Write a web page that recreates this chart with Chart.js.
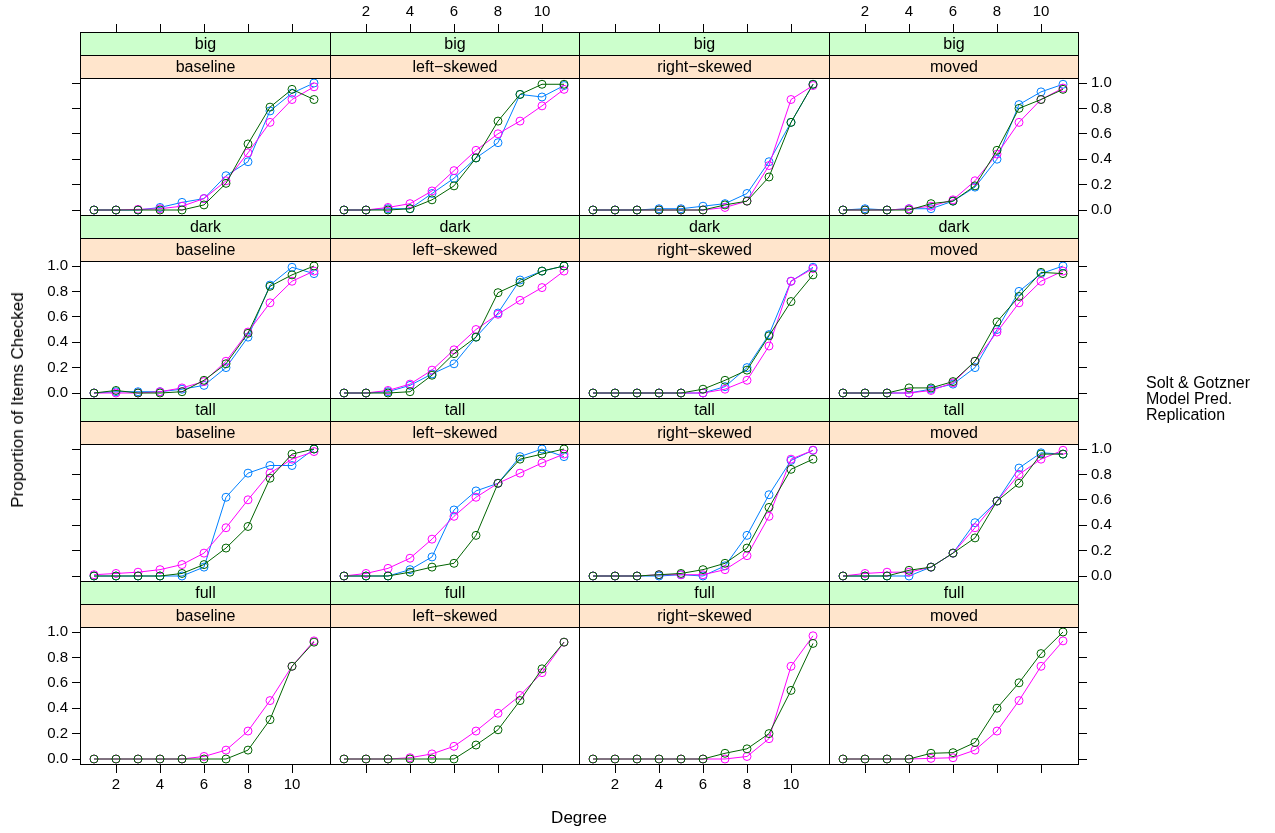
<!DOCTYPE html>
<html><head><meta charset="utf-8">
<script src="https://cdn.jsdelivr.net/npm/chart.js@4.4.0/dist/chart.umd.min.js"></script>
<style>
html,body{margin:0;padding:0;background:#fff;}
body{width:1275px;height:833px;position:relative;overflow:hidden;font-family:"Liberation Sans",Arial,sans-serif;}
canvas{position:absolute;}
.strip{position:absolute;text-align:center;font-size:16px;color:#000;height:22px;line-height:22px;white-space:nowrap;}
.lab{position:absolute;color:#000;white-space:nowrap;}
</style></head><body>
<script>
// ---------- data ----------
const degrees = [1,2,3,4,5,6,7,8,9,10,11];
const sizes = ["big","dark","tall","full"];
const shapes = ["baseline","left\u2212skewed","right\u2212skewed","moved"];
const xTicks = [2,4,6,8,10];
const yTicks = [0,0.2,0.4,0.6,0.8,1.0];
const seriesNames = ["Solt & Gotzner","Model Pred.","Replication"];

// big
const soltBigBaseline  = [0,0,0,0.02,0.06,0.09,0.27,0.38,0.78,0.92,1.00];
const modelBigBaseline = [0,0,0.005,0.01,0.03,0.09,0.23,0.45,0.69,0.87,0.97];
const replBigBaseline  = [0,0,0,0,0,0.04,0.21,0.52,0.81,0.95,0.87];
const soltBigLeft  = [0,0,0.01,0.01,0.13,0.25,0.41,0.53,0.91,0.89,0.98];
const modelBigLeft = [0,0,0.02,0.05,0.15,0.31,0.47,0.60,0.70,0.82,0.95];
const replBigLeft  = [0,0,0,0.01,0.08,0.19,0.41,0.70,0.91,0.99,0.99];
const soltBigRight  = [0,0,0,0.01,0.01,0.03,0.05,0.13,0.38,0.69,0.99];
const modelBigRight = [0,0,0,0,0,0,0.02,0.07,0.35,0.87,0.98];
const replBigRight  = [0,0,0,0,0,0,0.04,0.07,0.26,0.69,0.99];
const soltBigMoved  = [0,0.01,0,0.01,0.01,0.07,0.18,0.40,0.83,0.93,0.99];
const modelBigMoved = [0,0,0,0.01,0.03,0.08,0.23,0.44,0.69,0.87,0.96];
const replBigMoved  = [0,0,0,0,0.05,0.07,0.19,0.47,0.80,0.87,0.95];
// dark
const soltDarkBaseline  = [0,0.01,0.01,0.01,0.03,0.06,0.20,0.44,0.85,0.99,0.94];
const modelDarkBaseline = [0,0,0,0.01,0.04,0.09,0.25,0.48,0.71,0.88,0.96];
const replDarkBaseline  = [0,0.02,0,0,0.01,0.10,0.23,0.47,0.84,0.93,1.00];
const soltDarkLeft  = [0,0,0.01,0.06,0.15,0.23,0.44,0.63,0.89,0.96,1.00];
const modelDarkLeft = [0,0,0.02,0.07,0.18,0.34,0.50,0.62,0.73,0.83,0.96];
const replDarkLeft  = [0,0,0,0.01,0.14,0.31,0.44,0.79,0.87,0.96,1.00];
const soltDarkRight  = [0,0,0,0,0,0,0.05,0.20,0.46,0.88,0.99];
const modelDarkRight = [0,0,0,0,0,0,0.03,0.10,0.37,0.88,0.98];
const replDarkRight  = [0,0,0,0,0,0.03,0.10,0.18,0.45,0.72,0.93];
const soltDarkMoved  = [0,0,0,0,0.03,0.07,0.20,0.50,0.80,0.94,1.00];
const modelDarkMoved = [0,0,0,0,0.02,0.08,0.25,0.48,0.71,0.88,0.96];
const replDarkMoved  = [0,0,0,0.04,0.04,0.09,0.25,0.56,0.76,0.95,0.94];
// tall
const soltTallBaseline  = [0,0,0,0,0,0.07,0.62,0.81,0.87,0.87,1.00];
const modelTallBaseline = [0.01,0.02,0.03,0.05,0.09,0.18,0.38,0.60,0.81,0.92,0.98];
const replTallBaseline  = [0,0,0,0,0.02,0.09,0.22,0.39,0.77,0.96,1.00];
const soltTallLeft  = [0,0,0,0.05,0.15,0.52,0.67,0.73,0.94,1.00,0.94];
const modelTallLeft = [0,0.02,0.06,0.14,0.29,0.47,0.62,0.73,0.81,0.89,0.96];
const replTallLeft  = [0,0,0,0.03,0.07,0.10,0.32,0.73,0.92,0.96,1.00];
const soltTallRight  = [0,0,0,0,0.01,0,0.08,0.32,0.64,0.91,0.99];
const modelTallRight = [0,0,0,0.01,0.01,0.01,0.05,0.16,0.47,0.92,0.99];
const replTallRight  = [0,0,0,0.01,0.02,0.05,0.10,0.22,0.54,0.84,0.92];
const soltTallMoved  = [0,0,0,0,0.07,0.18,0.42,0.59,0.85,0.97,0.96];
const modelTallMoved = [0,0.02,0.03,0.03,0.07,0.18,0.38,0.59,0.80,0.92,0.99];
const replTallMoved  = [0,0,0,0.045,0.07,0.18,0.30,0.59,0.73,0.96,0.96];
// full (no Solt & Gotzner data)
const modelFullBaseline = [0,0,0,0,0,0.02,0.07,0.22,0.46,0.73,0.93];
const replFullBaseline  = [0,0,0,0,0,0,0,0.07,0.31,0.73,0.92];
const modelFullLeft = [0,0,0,0.01,0.04,0.10,0.22,0.36,0.50,0.68,0.92];
const replFullLeft  = [0,0,0,0,0,0,0.11,0.23,0.46,0.71,0.92];
const modelFullRight = [0,0,0,0,0,0,0,0.02,0.16,0.73,0.97];
const replFullRight  = [0,0,0,0,0,0,0.045,0.08,0.20,0.54,0.91];
const modelFullMoved = [0,0,0,0,0.005,0.01,0.07,0.22,0.46,0.73,0.93];
const replFullMoved  = [0,0,0,0,0.045,0.05,0.13,0.40,0.60,0.83,1.00];

const panelData = [
  [[soltBigBaseline,modelBigBaseline,replBigBaseline],[soltBigLeft,modelBigLeft,replBigLeft],[soltBigRight,modelBigRight,replBigRight],[soltBigMoved,modelBigMoved,replBigMoved]],
  [[soltDarkBaseline,modelDarkBaseline,replDarkBaseline],[soltDarkLeft,modelDarkLeft,replDarkLeft],[soltDarkRight,modelDarkRight,replDarkRight],[soltDarkMoved,modelDarkMoved,replDarkMoved]],
  [[soltTallBaseline,modelTallBaseline,replTallBaseline],[soltTallLeft,modelTallLeft,replTallLeft],[soltTallRight,modelTallRight,replTallRight],[soltTallMoved,modelTallMoved,replTallMoved]],
  [[null,modelFullBaseline,replFullBaseline],[null,modelFullLeft,replFullLeft],[null,modelFullRight,replFullRight],[null,modelFullMoved,replFullMoved]]
];

// ---------- styling / layout ----------
const colors = ["#0080ff","#ff00ff","#006400"];
const FONT = "'Liberation Sans', Arial, sans-serif";
const TICK_FONT = 15;
const colLeft = [80, 330, 579, 829, 1078];
const rowTop = [32, 215, 398, 581, 764];
const X_UNIT = 22, Y_UNIT = 127, STRIP_H = 23, PAD = 14;

const framePlugin = {
  id: 'frame',
  beforeDatasetsDraw(chart) {
    const {ctx, chartArea: a} = chart;
    ctx.save();
    ctx.fillStyle = '#ccffcc'; ctx.fillRect(a.left, a.top, a.width, STRIP_H);
    ctx.fillStyle = '#ffe5cc'; ctx.fillRect(a.left, a.top + STRIP_H, a.width, STRIP_H);
    ctx.restore();
  },
  afterDraw(chart) {
    const {ctx, chartArea: a} = chart;
    ctx.save();
    ctx.strokeStyle = '#000'; ctx.lineWidth = 1;
    ctx.strokeRect(a.left + 0.5, a.top + 0.5, a.width - 1, a.height - 1);
    ctx.beginPath();
    ctx.moveTo(a.left, a.top + STRIP_H + 0.5); ctx.lineTo(a.right, a.top + STRIP_H + 0.5);
    ctx.moveTo(a.left, a.top + 2*STRIP_H + 0.5); ctx.lineTo(a.right, a.top + 2*STRIP_H + 0.5);
    ctx.stroke();
    ctx.restore();
  }
};

function axisCommon(show, labels, isX, size) {
  return {
    display: show,
    grid: {display: true, drawOnChartArea: false, drawTicks: true, tickLength: 8, color: '#000', lineWidth: 1},
    border: {display: false},
    afterBuildTicks: s => { s.ticks = (isX ? xTicks : yTicks).map(v => ({value: v})); },
    afterFit: s => { if (isX) s.height = size; else s.width = size; },
    ticks: {
      display: true, autoSkip: false, maxRotation: 0, minRotation: 0,
      color: '#000', font: {family: FONT, size: TICK_FONT}, padding: isX ? 3 : 4,
      callback: v => labels ? (isX ? String(v) : Number(v).toFixed(1)) : ''
    }
  };
}

function makePanel(r, c) {
  const showTop = r === 0, showBottom = r === 3, showLeft = c === 0, showRight = c === 3;
  const L = colLeft[c], w = colLeft[c+1] - L + 1;
  const T = rowTop[r], h = rowTop[r+1] - T + 1;
  const aL = showLeft ? 60 : 0, aR = showRight ? 60 : 0, aT = showTop ? 31 : 0, aB = showBottom ? 40 : 0;
  const cv = document.createElement('canvas');
  const cw = w + aL + aR + 2*PAD, ch = h + aT + aB + 2*PAD;
  cv.width = cw; cv.height = ch;
  cv.style.left = (L - aL - PAD) + 'px'; cv.style.top = (T - aT - PAD) + 'px';
  cv.style.width = cw + 'px'; cv.style.height = ch + 'px';
  document.body.appendChild(cv);

  const xmin = 1 - 14/X_UNIT, xmax = xmin + w / X_UNIT;
  const ymin = -(h - 178) / Y_UNIT, ymax = ymin + h / Y_UNIT;

  const datasets = [];
  panelData[r][c].forEach((arr, k) => {
    if (!arr) return;
    datasets.push({
      label: seriesNames[k],
      data: degrees.map((d, i) => ({x: d, y: arr[i]})),
      borderColor: colors[k], backgroundColor: 'rgba(0,0,0,0)',
      borderWidth: 1, pointRadius: 4, pointBorderWidth: 1,
      pointBackgroundColor: 'rgba(0,0,0,0)', pointBorderColor: colors[k],
      pointHoverRadius: 4, tension: 0, order: 3 - k, clip: false
    });
  });

  const x = Object.assign(axisCommon(showBottom, c % 2 === 0, true, aB), {type: 'linear', position: 'bottom', min: xmin, max: xmax});
  const x2 = Object.assign(axisCommon(showTop, c % 2 === 1, true, aT), {type: 'linear', position: 'top', min: xmin, max: xmax});
  const y = Object.assign(axisCommon(showLeft, r % 2 === 1, false, aL), {type: 'linear', position: 'left', min: ymin, max: ymax});
  const y2 = Object.assign(axisCommon(showRight, r % 2 === 0, false, aR), {type: 'linear', position: 'right', min: ymin, max: ymax});

  new Chart(cv, {
    type: 'line',
    data: {datasets},
    options: {
      responsive: false, animation: false, devicePixelRatio: 1,
      layout: {padding: PAD},
      plugins: {legend: {display: false}, tooltip: {enabled: false}},
      scales: {x, x2, y, y2}
    },
    plugins: [framePlugin]
  });

  // strip labels
  const s1 = document.createElement('div');
  s1.className = 'strip'; s1.textContent = sizes[r];
  s1.style.left = L + 'px'; s1.style.width = w + 'px'; s1.style.top = (T + 1) + 'px';
  document.body.appendChild(s1);
  const s2 = document.createElement('div');
  s2.className = 'strip'; s2.textContent = shapes[c];
  s2.style.left = L + 'px'; s2.style.width = w + 'px'; s2.style.top = (T + STRIP_H + 1) + 'px';
  document.body.appendChild(s2);
}

for (let r = 0; r < 4; r++) for (let c = 0; c < 4; c++) makePanel(r, c);

// axis titles
function addLabel(text, css) {
  const d = document.createElement('div');
  d.className = 'lab'; d.textContent = text;
  Object.assign(d.style, css);
  document.body.appendChild(d);
  return d;
}
addLabel('Degree', {left: '579px', top: '818px', fontSize: '17px', transform: 'translate(-50%,-50%)'});
addLabel('Proportion of Items Checked', {left: '18px', top: '400px', fontSize: '17px', transform: 'translate(-50%,-50%) rotate(-90deg)'});
// key (text only)
seriesNames.forEach((n, i) => {
  addLabel(n, {left: '1146px', top: (383 + i*16) + 'px', fontSize: '16px', lineHeight: '16px', transform: 'translateY(-50%)'});
});
</script>
</body></html>
